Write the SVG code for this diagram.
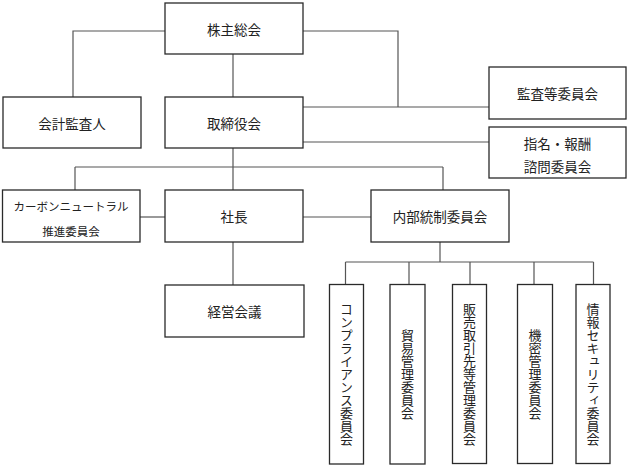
<svg xmlns="http://www.w3.org/2000/svg" width="629" height="468" viewBox="0 0 629 468">
<style>
.box{fill:#fff;stroke:#2a2a2a;stroke-width:1.3}
.ln{fill:none;stroke:#555;stroke-width:1.2}
text{font-family:"Noto Sans CJK JP","Noto Sans CJK SC",sans-serif;fill:#222;text-anchor:middle;dominant-baseline:central}
.t{font-size:13.5px}
.s{font-size:11.5px}
.v{font-size:13px;writing-mode:vertical-rl}
</style>
<rect width="629" height="468" fill="#fff"/>
<g id="connectors">
<path class="ln" d="M165,31 H73 V97"/>
<path class="ln" d="M233,54 V97"/>
<path class="ln" d="M303,31 H398 V107"/>
<path class="ln" d="M303,107 H489"/>
<path class="ln" d="M303,142 H489"/>
<path class="ln" d="M233,148 V167"/>
<path class="ln" d="M75,167 H443"/>
<path class="ln" d="M75,167 V190 M233,167 V190 M443,167 V190"/>
<path class="ln" d="M140,217 H165"/>
<path class="ln" d="M303,217 H371"/>
<path class="ln" d="M233,242 V285"/>
<path class="ln" d="M440,242 V262"/>
<path class="ln" d="M345.5,262 H593.5"/>
<path class="ln" d="M345.5,262 V284.5 M409,262 V284.5 M470,262 V284.5 M534,262 V284.5 M593.5,262 V284.5"/>
</g>
<g id="kabunushi"><rect class="box" x="165" y="3" width="138" height="51"/><text class="t" x="234" y="29">株主総会</text></g>
<g id="kaikei"><rect class="box" x="3" y="97" width="138" height="51"/><text class="t" x="72" y="123">会計監査人</text></g>
<g id="torishimari"><rect class="box" x="165" y="97" width="138" height="51"/><text class="t" x="234" y="123">取締役会</text></g>
<g id="kansa"><rect class="box" x="489" y="67" width="137" height="52"/><text class="t" x="557.5" y="93">監査等委員会</text></g>
<g id="shimei"><rect class="box" x="489" y="127" width="137" height="51"/><text class="t" x="557.5" y="143">指名・報酬</text><text class="t" x="557.5" y="166">諮問委員会</text></g>
<g id="carbon"><rect class="box" x="2.5" y="190" width="137.5" height="52"/><text class="s" x="71" y="206">カーボンニュートラル</text><text class="s" x="71" y="231">推進委員会</text></g>
<g id="shacho"><rect class="box" x="165" y="190" width="138" height="52"/><text class="t" x="234" y="216">社長</text></g>
<g id="naibu"><rect class="box" x="371" y="190" width="138" height="52"/><text class="t" x="440" y="216">内部統制委員会</text></g>
<g id="keiei"><rect class="box" x="165" y="285" width="139" height="52"/><text class="t" x="234.5" y="311">経営会議</text></g>
<g id="compliance"><rect class="box" x="329.5" y="284.5" width="34" height="179.5"/><text class="v" x="346.5" y="374">コンプライアンス委員会</text></g>
<g id="boeki"><rect class="box" x="390" y="284.5" width="35" height="179.5"/><text class="v" x="407.5" y="374">貿易管理委員会</text></g>
<g id="hanbai"><rect class="box" x="452.5" y="284.5" width="34" height="179"/><text class="v" x="469.5" y="374">販売取引先等管理委員会</text></g>
<g id="kimitsu"><rect class="box" x="517.5" y="284.5" width="35" height="179"/><text class="v" x="535" y="374">機密管理委員会</text></g>
<g id="joho"><rect class="box" x="576" y="284.5" width="34" height="179"/><text class="v" x="593" y="374">情報セキュリティ委員会</text></g>
</svg>
